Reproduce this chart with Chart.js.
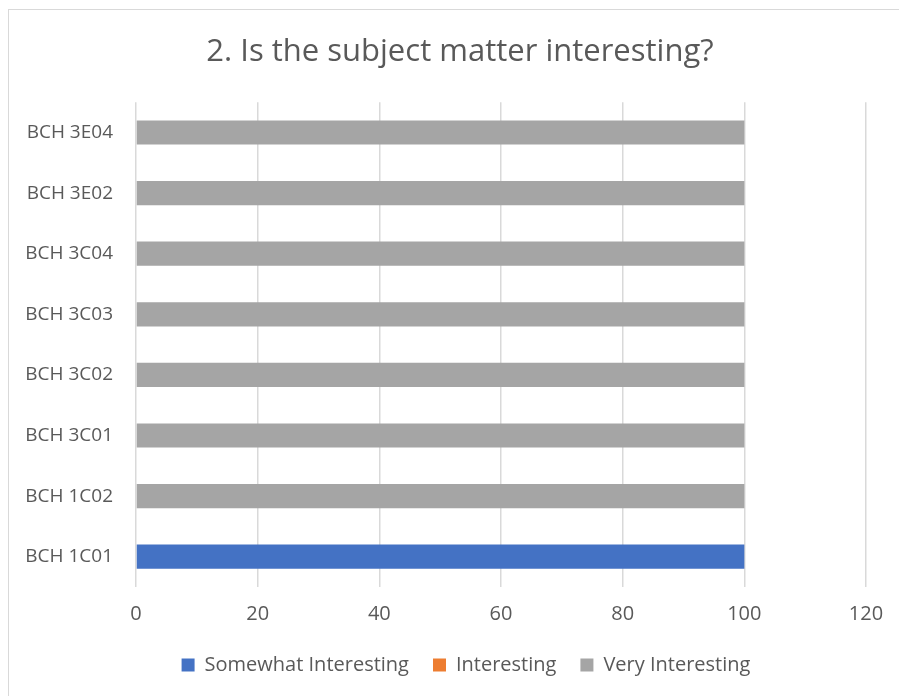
<!DOCTYPE html>
<html lang="en">
<head>
    <meta charset="UTF-8">
    <title>2. Is the subject matter interesting?</title>
    <script src="https://cdn.jsdelivr.net/npm/chart.js"></script>
    <style>
        body {
            margin: 0;
            background: white;
            width: 899px;
            height: 696px;
            overflow: hidden;
            position: relative;
        }
        #frame {
            position: absolute;
            left: 8px;
            top: 9px;
            right: -2px;
            bottom: -2px;
            border-top: 1px solid #d9d9d9;
            border-left: 1px solid #d9d9d9;
        }
        #wrap {
            position: absolute;
            left: 0;
            top: 0;
            width: 899px;
            height: 696px;
        }
    </style>
</head>
<body>
    <div id="frame"></div>
    <div id="wrap"><canvas id="chart"></canvas></div>

    <script>
        // categories, top to bottom as drawn
        const courses = ["BCH 3E04", "BCH 3E02", "BCH 3C04", "BCH 3C03", "BCH 3C02", "BCH 3C01", "BCH 1C02", "BCH 1C01"];
        const somewhat = [0, 0, 0, 0, 0, 0, 0, 100];
        const interesting = [0, 0, 0, 0, 0, 0, 0, 0];
        const veryInteresting = [100, 100, 100, 100, 100, 100, 100, 0];
        const xTicks = [0, 20, 40, 60, 80, 100, 120];

        const textColor = "#595959";
        const fontFamily = "'Open Sans', sans-serif";

        // the original chart frame is wider than the page, so title and legend sit right of centre
        const nudgeBoxes = {
            id: "nudgeBoxes",
            afterLayout(chart) {
                chart.titleBlock.left += 27;
                chart.titleBlock.right += 27;
                chart.legend.left += 33;
                chart.legend.right += 33;
            }
        };

        new Chart(document.getElementById("chart"), {
            type: "bar",
            data: {
                labels: courses,
                datasets: [
                    { label: "Somewhat Interesting", data: somewhat, backgroundColor: "#4472c4" },
                    { label: "Interesting", data: interesting, backgroundColor: "#ed7d31" },
                    { label: "Very Interesting", data: veryInteresting, backgroundColor: "#a5a5a5" }
                ]
            },
            plugins: [nudgeBoxes],
            options: {
                indexAxis: "y",
                responsive: true,
                maintainAspectRatio: false,
                animation: false,
                categoryPercentage: 0.8,
                barPercentage: 0.5,
                layout: { padding: { left: 0, right: 33, top: 0, bottom: 11 } },
                scales: {
                    x: {
                        stacked: true,
                        min: 0,
                        max: 120,
                        afterBuildTicks: s => { s.ticks = xTicks.map(v => ({ value: v })); },
                        afterFit: s => { s.height = 44; },
                        grid: { color: "#d9d9d9", lineWidth: 1.5, drawTicks: false },
                        border: { display: false },
                        ticks: { color: textColor, font: { family: fontFamily, size: 20 }, padding: 15 }
                    },
                    y: {
                        stacked: true,
                        afterFit: s => { s.width = 136; },
                        grid: { display: false, drawTicks: false },
                        border: { display: false },
                        ticks: { color: textColor, font: { family: fontFamily, size: 19 }, padding: 23 }
                    }
                },
                plugins: {
                    title: {
                        display: true,
                        text: "2. Is the subject matter interesting?",
                        color: textColor,
                        font: { family: fontFamily, size: 31, weight: "normal" },
                        padding: { top: 34, bottom: 31 }
                    },
                    legend: {
                        position: "bottom",
                        labels: {
                            color: textColor,
                            font: { family: fontFamily, size: 20 },
                            boxWidth: 13,
                            boxHeight: 13,
                            padding: 24
                        }
                    },
                    tooltip: { enabled: false }
                }
            }
        });
    </script>
</body>
</html>
